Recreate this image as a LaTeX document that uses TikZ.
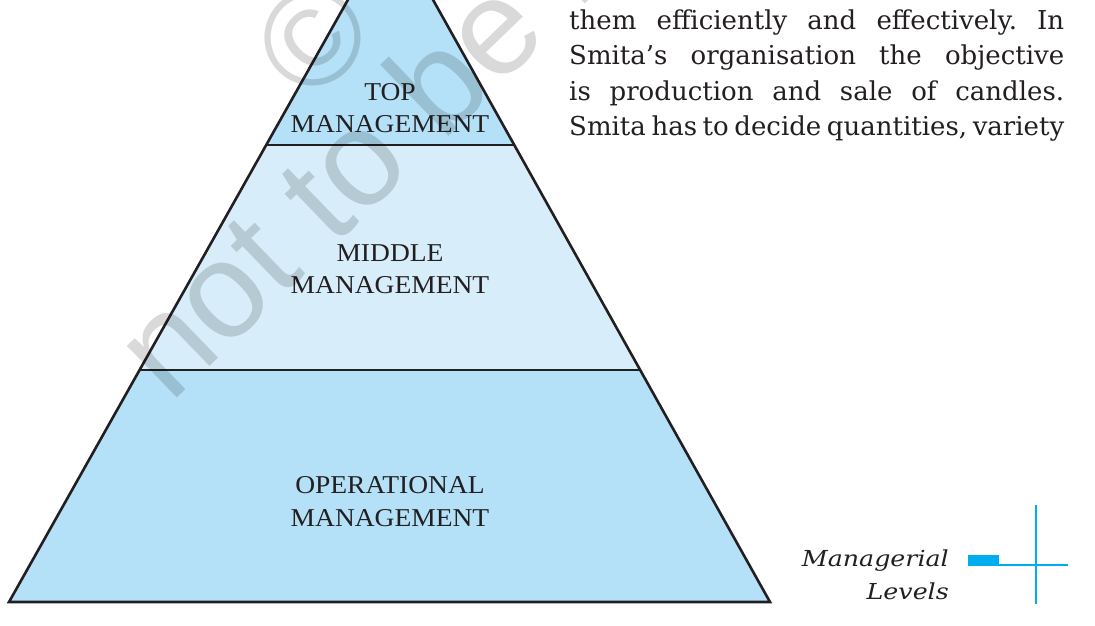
\documentclass[tikz,border=0pt]{standalone}
\usepackage{fontspec}
\usetikzlibrary{calc}
\newfontfamily\bodyfont{DejaVu Serif}
\newfontfamily\levelfont{Liberation Serif}[FakeStretch=1.07]
\newfontfamily\legendfont{DejaVu Serif}[FakeStretch=1.15]
\newfontfamily\wmfont{Liberation Sans}
\definecolor{pyrline}{HTML}{231F20}
\definecolor{bandA}{HTML}{B4E1F7}
\definecolor{bandB}{HTML}{D7EEFA}
\definecolor{cyanmark}{HTML}{00AEEF}
\definecolor{txt}{HTML}{231F20}
\newcommand{\bodyrow}[1]{{\frenchspacing\spaceskip=.2em plus 3em\relax\makebox[495pt][s]{#1}}}
\begin{document}
\begin{tikzpicture}[x=1pt,y=-1pt,
  edgeline/.style={draw=pyrline,line width=2.6pt,line join=miter},
  lvl/.style={anchor=base,inner sep=0pt,text=txt,font=\levelfont\fontsize{25.7}{32}\selectfont},
  bodyline/.style={anchor=base west,inner sep=0pt,text=txt,font=\bodyfont\fontsize{26}{36}\selectfont},
  legendtext/.style={anchor=base east,inner sep=0pt,text=txt,font=\legendfont\itshape\fontsize{22}{33}\selectfont},
  cyanline/.style={draw=cyanmark,line width=2pt},
  wm/.style={inner sep=0pt,text=black,opacity=0.15,font=\wmfont\fontsize{136}{136}\selectfont,rotate=44}
]
\useasboundingbox (0,0) rectangle (1095,625);
% pyramid corners
\coordinate (apex) at (390.6,-76);
\coordinate (bl) at (9,602);
\coordinate (br) at (770,602);
\coordinate (tl) at ($(apex)!0.32596!(bl)$);
\coordinate (tr) at ($(apex)!0.32596!(br)$);
\coordinate (ml) at ($(apex)!0.65782!(bl)$);
\coordinate (mr) at ($(apex)!0.65782!(br)$);
\fill[bandA] (apex) -- (tr) -- (tl) -- cycle;
\fill[bandB] (tl) -- (tr) -- (mr) -- (ml) -- cycle;
\fill[bandA] (ml) -- (mr) -- (br) -- (bl) -- cycle;
\draw[edgeline] (apex) -- (br) -- (bl) -- cycle;
\draw[edgeline] (tl) -- (tr);
\draw[edgeline] (ml) -- (mr);
% level labels
\node[lvl] (top1) at (390,100) {TOP};
\node[lvl] (top2) at (390,132) {MANAGEMENT};
\node[lvl] (mid1) at (390,261.5) {MIDDLE};
\node[lvl] (mid2) at (390,293) {MANAGEMENT};
\node[lvl] (op1) at (390,493) {OPERATIONAL};
\node[lvl] (op2) at (390,526) {MANAGEMENT};
% body text
\node[bodyline] (b1) at (569,29) {\bodyrow{them efficiently and effectively. In}};
\node[bodyline] (b2) at (569,64.5) {\bodyrow{Smita’s organisation the objective}};
\node[bodyline] (b3) at (569,100) {\bodyrow{is production and sale of candles.}};
\node[bodyline] (b4) at (569,135.5) {\bodyrow{Smita has to decide quantities, variety}};
% side legend
\node[legendtext] (lg1) at (949,566) {Managerial};
\node[legendtext] (lg2) at (949,599) {Levels};
\fill[cyanmark] (968,555) rectangle (999,566);
\coordinate (hl) at (999,565);
\coordinate (hr) at (1068,565);
\coordinate (vt) at (1036,505);
\coordinate (vb) at (1036,604);
\draw[cyanline] (hl) -- (hr);
\draw[cyanline] (vt) -- (vb);
% watermark
\node[wm,anchor=base west] (wm1) at (170.4,404.8) {not to be republished};
\node[wm,anchor=center] (wm2) at (313,38) {©};
\end{tikzpicture}
\end{document}
